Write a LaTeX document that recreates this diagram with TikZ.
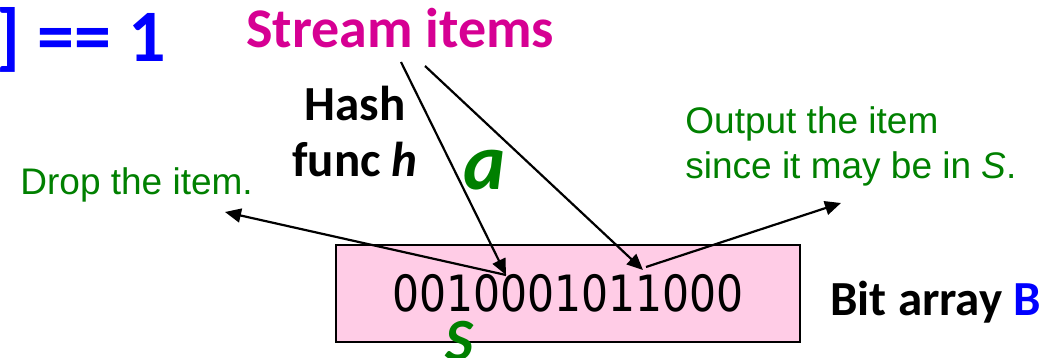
\documentclass[tikz,border=0pt]{standalone}
\usepackage{fontspec}
\setmainfont{Carlito}
\newfontfamily\arialfont{Liberation Sans}
\newfontfamily\bitfont[FakeStretch=0.85]{DejaVu Sans}
\usetikzlibrary{arrows.meta,positioning}
\definecolor{mag}{HTML}{D60093}
\definecolor{grn}{HTML}{008000}
\definecolor{blu}{HTML}{0000FF}
\definecolor{pinkbg}{HTML}{FFCCE6}
\newcommand{\fsz}[1]{\fontsize{#1pt}{1.2\dimexpr#1pt\relax}\selectfont}
\tikzset{
  lbl/.style={inner sep=0pt,anchor=base west},
  note/.style={lbl,text=grn,font=\arialfont\fsz{18.5}},
  ar/.style={-{Triangle[length=8pt,width=7pt]},line width=1.1pt,draw=black},
}

\begin{document}
\begin{tikzpicture}[x=0.5pt,y=-0.5pt]
  \useasboundingbox (0,0) rectangle (1057,358);
  % titles
  \node[lbl,anchor=base east,text=blu,font=\fsz{37}\bfseries] (eq) at (166,62) {] == 1};
  \node[lbl,text=mag,font=\fsz{28}\bfseries] (items) at (246,48) {Stream items};
  \node[lbl,anchor=base,font=\fsz{24.5}\bfseries] (hash) at (355,121) {Hash};
  \node[lbl,anchor=base,font=\fsz{24.5}\bfseries] (func) at (355,177) {func \textit{h}};
  \node[lbl,text=grn,font=\fsz{40}\bfseries\itshape] (a) at (463,190) {a};
  % bit array
  \node[draw=black,line width=1pt,fill=pinkbg,minimum width=232pt,minimum height=48.5pt,
        inner sep=0pt,font=\bitfont\fsz{25}] (bits) at (568,293.5) {0010001011000};
  \node[lbl,text=grn,font=\fsz{30}\bfseries\itshape] (s) at (445,361) {S};
  \node[lbl,font=\fsz{24.5}\bfseries] (barr) at (830,316) {Bit array \textcolor{blu}{B}};
  % notes
  \node[note] (drop) at (20,195) {Drop the item.};
  \node[note] (out1) at (685,134) {Output the item};
  \node[note] (out2) at (685,179) {since it may be in \textit{S}.};
  % arrow ends
  \coordinate (srcA) at (401,62);
  \coordinate (srcB) at (425,66);
  \coordinate (bitA) at (506,275);
  \coordinate (bitB) at (643,270);
  \coordinate (bitC) at (646,267);
  \coordinate (dropend) at (225,212);
  \coordinate (outend) at (841,203);
  \draw[ar] (srcA) -- (bitA);
  \draw[ar] (srcB) -- (bitB);
  \draw[ar] (bitA) -- (dropend);
  \draw[ar] (bitC) -- (outend);
\end{tikzpicture}
\end{document}
